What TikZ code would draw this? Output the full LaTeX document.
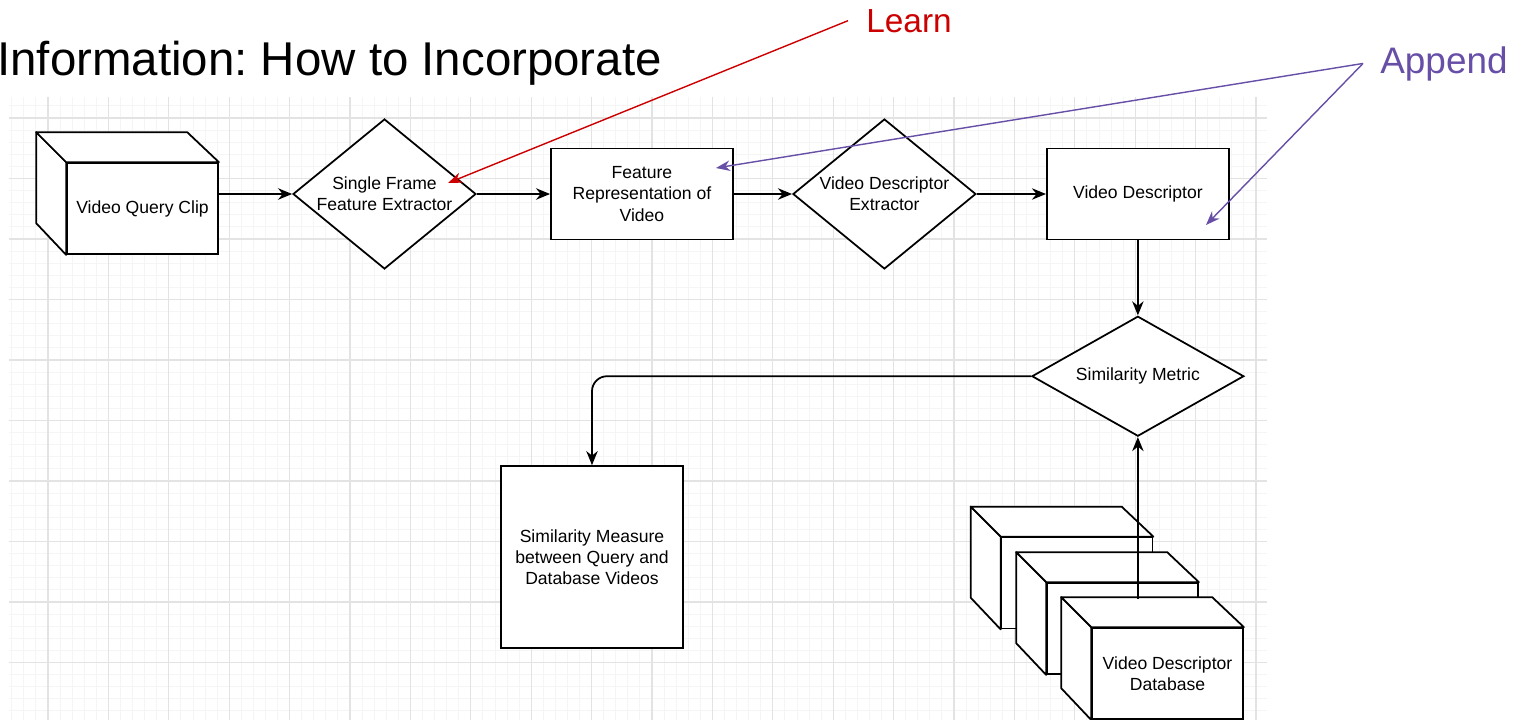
\documentclass[tikz,border=0pt]{standalone}
\usepackage{fontspec}
\setmainfont{Liberation Sans}
\usepackage{tikz}
\usetikzlibrary{shapes.geometric,arrows.meta,positioning}
\definecolor{learnred}{RGB}{204,0,0}
\definecolor{appendviolet}{RGB}{103,78,167}
\frenchspacing
\tikzstyle{processnode}=[draw,%
                          rectangle,%
                          fill=white,%
                          line width=1pt,%
                          align=center,%
                          font=\fontsize{10}{12}\selectfont,%
                          minimum width=3.64cm,%
                          minimum height=1.82cm]
\tikzstyle{decisionnode}=[draw,fill=white,diamond,aspect=1.22,line width=1pt,align=center,inner sep=0pt,font=\fontsize{10}{12}\selectfont,minimum width=3.66cm,minimum height=3cm]
\tikzstyle{cubenode}=[processnode,minimum width=3.02cm]
\tikzstyle{flow}=[-{Stealth[length=8pt,width=6.5pt]},line width=1pt]
\tikzstyle{remark}=[-{Stealth[length=8pt,width=6pt]},line width=0.8pt]
\tikzstyle{minorgrid}=[black!4,line width=0.5pt]
\tikzstyle{majorgrid}=[black!11,line width=0.7pt]
% top and left faces of a box drawn behind its front node
\newcommand{\cubesides}[1]{%
  \draw[line width=1pt,fill=white,line join=round] (#1.north west) -- ++(-30,-30) -- ++(0,91) -- (#1.south west) -- cycle;
  \draw[line width=1pt,fill=white,line join=round] (#1.north west) -- ++(-30,-30) -- ++(151,0) -- (#1.north east) -- cycle;}

\begin{document}
\begin{tikzpicture}[x=0.02cm,y=-0.02cm]
            \useasboundingbox (0,0) rectangle (1525,720);
            % grid paper
            \foreach \k in {-3,...,100} \draw[minorgrid] ({48+12.08*\k},97) -- ({48+12.08*\k},720);
            \foreach \k in {-1,...,49} \draw[minorgrid] (9,{118+12.1*\k}) -- (1267,{118+12.1*\k});
            \foreach \k in {0,...,20} \draw[majorgrid] ({48+60.4*\k},97) -- ({48+60.4*\k},720);
            \foreach \k in {0,...,9} \draw[majorgrid] (9,{118+60.5*\k}) -- (1267,{118+60.5*\k});

            \node[font=\fontsize{27}{32}\selectfont,anchor=base west,inner sep=0pt] (title) at (-3,75) {Information: How to Incorporate};

            % top row
            \node[cubenode] (clip) at (142.5,208.5) {Video Query Clip};
            \cubesides{clip}
            \node[decisionnode] (sfe) at (384.5,194) {Single Frame\\Feature Extractor};
            \node[processnode][right=1.465cm of sfe] (feat) {Feature\\Representation of\\Video};
            \node[decisionnode][right=1.165cm of feat] (vde) {Video Descriptor\\Extractor};
            \node[processnode][right=1.385cm of vde] (vd) {Video Descriptor};
            \node[decisionnode,aspect=1.77,minimum width=4.24cm,minimum height=2.4cm][below=1.5cm of vd] (sim) {Similarity Metric};
            \node[processnode,minimum height=3.64cm] (measure) at (592,557) {Similarity Measure\\between Query and\\Database Videos};

            % database stack
            \node[cubenode] (db1) at (1077,583) {};
            \cubesides{db1}
            \node[cubenode] (db2) at (1122.5,628.5) {};
            \cubesides{db2}
            \node[cubenode] (db3) at (1167.5,673.5) {Video Descriptor\\Database};
            \cubesides{db3}
            \coordinate (dbtop) at (1140,598.5);

            \draw[flow] (clip.east |- sfe.west) -- (sfe.west);
            \draw[flow] (sfe.east) -- (feat.west);
            \draw[flow] (feat.east) -- (vde.west);
            \draw[flow] (vde.east) -- (vd.west);
            \draw[flow] (vd.south) -- (sim.north);
            \draw[flow,rounded corners=0.3cm] (sim.west) -| (measure.north);
            \draw[flow] (sim.south |- dbtop) -- (sim.south);

            % notes
            \node[text=learnred,font=\fontsize{19}{22}\selectfont,anchor=base west,inner ysep=0pt,inner xsep=0.36cm] (learn) at (848,32) {Learn};
            \node[text=appendviolet,font=\fontsize{21}{25}\selectfont,anchor=base west,inner ysep=0pt,inner xsep=0.34cm] (append) at (1363,73) {Append};
            \coordinate (learnat) at (448,183);
            \coordinate (appendfeat) at (716,168);
            \coordinate (appendvd) at (1206,225);
            \draw[remark,learnred] (learn.west) -- (learnat);
            \draw[remark,appendviolet] (append.west) -- (appendfeat);
            \draw[remark,appendviolet] (append.west) -- (appendvd);
  \end{tikzpicture}
\end{document}
